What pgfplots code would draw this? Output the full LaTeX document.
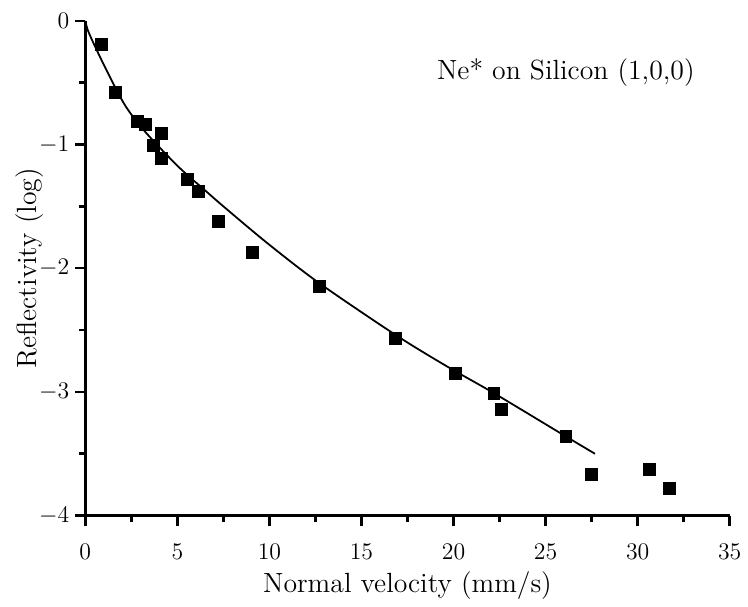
\documentclass[border=0pt]{standalone}
\usepackage{pgfplots}
\pgfplotsset{compat=1.18}
\begin{document}
\begin{tikzpicture}
\begin{axis}[
  scale only axis, width=325pt, height=249.5pt,
  xmin=0, xmax=35, ymin=-4, ymax=0,
  axis x line*=bottom, axis y line*=left,
  axis line style={-, line width=1.4pt},
  xtick={0,5,...,35}, ytick={-4,-3,...,0},
  minor x tick num=1, minor y tick num=1,
  tick align=outside,
  major tick length=5pt, minor tick length=3pt,
  every tick/.style={black, line width=1.3pt},
  tick label style={font=\fontsize{11.5}{13}\selectfont},
  xticklabel style={yshift=-6pt},
  yticklabel style={xshift=0.5pt},
  xlabel={Normal velocity (mm/s)},
  ylabel={Reflectivity (log)},
  label style={font=\fontsize{14}{16}\selectfont},
  xlabel style={at={(axis description cs:0.5,-0.156)}, anchor=base},
  ylabel style={at={(axis description cs:-0.086,0.5)}, anchor=center},
  clip=false,
]
% fitted curve
\addplot[black, line width=0.9pt, smooth] coordinates {
  (0,0) (0.15,-0.08) (0.57,-0.22) (1.29,-0.44) (2.19,-0.69) (3.27,-0.90)
  (5.06,-1.18) (6.5,-1.37) (7.58,-1.51) (9.91,-1.80) (12.7,-2.12)
  (16.86,-2.54) (19.6,-2.79) (22.19,-3.01) (26.1,-3.36) (27.68,-3.50)};
% measured points
\addplot[only marks, mark=square*, mark size=3pt, black] coordinates {
  (0.86,-0.19) (1.62,-0.58) (2.85,-0.81) (3.28,-0.84) (4.15,-0.91)
  (3.72,-1.01) (4.15,-1.11) (5.55,-1.28) (6.14,-1.38) (7.22,-1.62)
  (9.10,-1.87) (12.7,-2.15) (16.86,-2.57) (20.09,-2.85) (22.19,-3.01)
  (22.6,-3.14) (26.1,-3.36) (27.5,-3.67) (30.64,-3.63) (31.7,-3.78)};
\node[font=\fontsize{14}{16}\selectfont] at (axis cs:26.1,-0.42) {Ne* on Silicon (1,0,0)};
\path (rel axis cs:0,0) ++(-43pt,-41pt);
\path (rel axis cs:1,1) ++(6pt,10.5pt);
\end{axis}
\end{tikzpicture}
\end{document}
